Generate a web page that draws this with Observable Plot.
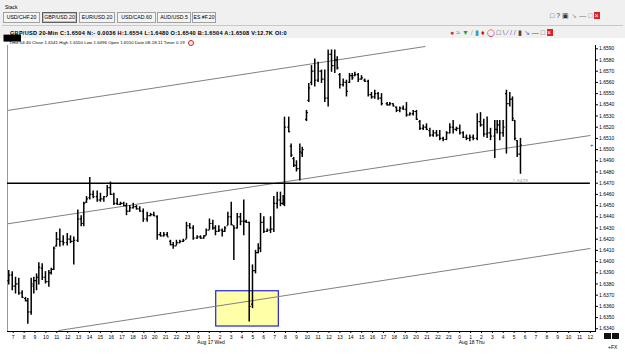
<!DOCTYPE html>
<html><head><meta charset="utf-8">
<script src="https://cdn.jsdelivr.net/npm/d3@7"></script>
<script src="https://cdn.jsdelivr.net/npm/@observablehq/plot@0.6"></script>
<style>
body{margin:0;width:625px;height:354px;overflow:hidden;background:#f0f0f0;font-family:"Liberation Sans",Arial,sans-serif;position:relative;color:#000}
.abs{position:absolute;white-space:nowrap}
.tab{position:absolute;top:12px;height:9px;border:1px solid #a0a0a0;background:#f4f4f4;font-size:5.2px;line-height:9px;text-align:center}
.tab.on{border:1px solid #606060;box-shadow:inset 0 0 0 1px #c0c0c0}
#chart{position:absolute;left:0;top:38px}
.circ{display:inline-block;width:4px;height:4px;border:1px solid #c22;border-radius:50%;background:#eef;margin-left:3px;vertical-align:middle}
</style></head><body>
<div class="abs" style="left:5px;top:4px;font-size:5px">Stack</div>
<div id="tabs"></div>
<div class="abs" style="left:2px;top:25px;width:621px;height:0;border-top:1px solid #c8c8c8"></div>
<div id="hdr" class="abs" style="left:10px;top:30px;font-size:5.6px;font-weight:bold;letter-spacing:0.25px"></div>
<div id="icons" class="abs" style="left:450px;top:29px;font-size:7px;letter-spacing:2px"></div>
<div id="wicons" class="abs" style="left:550px;top:12px;font-size:7px;letter-spacing:2px"></div>
<div id="chart"></div>
<div class="abs" style="left:9px;top:39.5px;font-size:4.3px;z-index:2"><span id="info" style="letter-spacing:0.05px"></span><span class="circ"></span></div>
<div class="abs" style="left:604px;top:333px;width:7px;height:6px;background:#111"></div>
<div class="abs" style="left:612px;top:333px;width:7px;height:6px;background:#111"></div>
<div class="abs" style="left:608px;top:344px;font-size:5px">+FX</div>
<script>
const tabNames = ["USD/CHF.20","GBP/USD.20","EUR/USD.20","USD/CAD.60","AUD/USD.5","ES #F.20"];
const tabLeft = [3,42,79,117,157,192];
const tabWidth = [35,33,34,37,32,22];
const headerText = "GBP/USD 20-Min C:1.6504 N:- 0.0036 H:1.6554 L:1.6480 O:1.6540 B:1.6504 A:1.6508 V:12.7K OI:0";
const infoText = "Time 04:40 Close 1.6541 High 1.6550 Low 1.6496 Open 1.6550 Date 08-18-11 Timer 0.19";

// 20-min bars, time in hours from Aug 16 00:00
const barTime = [6.59,6.91,7.21,7.51,7.82,8.13,8.34,8.65,8.89,9.14,9.35,9.66,9.96,10.27,10.49,10.73,10.97,11.28,11.59,11.96,12.26,12.56,12.93,13.24,13.48,13.73,14.03,14.34,14.71,15.01,15.32,15.63,15.93,16.24,16.55,16.85,17.15,17.40,17.70,18.02,18.32,18.62,18.94,19.30,19.61,19.91,20.22,20.52,20.83,21.14,21.44,21.69,21.99,22.30,22.61,22.91,23.21,23.53,23.89,
24.20,24.50,24.72,25.02,25.33,25.57,25.88,26.19,26.43,26.71,27.02,27.26,27.57,27.87,28.17,28.39,28.67,28.97,29.25,29.50,29.71,30.01,30.32,30.63,30.93,31.24,31.54,31.79,31.91,32.30,32.52,32.76,33.01,33.32,33.54,33.93,34.14,34.39,34.69,35.00,35.31,35.61,35.92,36.23,36.53,36.75,36.99,37.30,37.60,37.88,38.13,38.37,38.68,38.98,39.28,39.60,39.90,40.20,40.51,40.82,41.33,41.58,41.89,42.19,42.50,42.81,43.11,43.42,43.73,44.03,44.34,44.65,44.95,45.26,45.57,45.87,46.17,46.48,46.79,47.09,47.40,47.70,48.01,48.32,48.62,48.93,49.24,49.61,49.91,50.21,50.52,50.83,51.22,51.44,51.68,51.99,52.29,52.60,52.85,53.06,53.28,53.58];
const barHigh = [1.6392,1.6391,1.6386,1.6385,1.6374,1.6368,1.6367,1.6385,1.6386,1.6389,1.6399,1.6398,1.6391,1.6392,1.6394,1.6413,1.6426,1.6429,1.6423,1.6425,1.6423,1.6422,1.6446,1.6441,1.6453,1.6458,1.6475,1.6463,1.6463,1.6461,1.6458,1.6468,1.6471,1.6461,1.6456,1.6453,1.6453,1.6452,1.6450,1.6452,1.6450,1.6449,1.6447,1.6444,1.6443,1.6444,1.6441,1.6426,1.6426,1.6426,1.6419,1.6417,1.6419,1.6419,1.6420,1.6435,1.6434,1.6432,1.6423,
1.6423,1.6423,1.6429,1.6438,1.6437,1.6432,1.6432,1.6429,1.6431,1.6444,1.6453,1.6432,1.6443,1.6443,1.6455,1.6437,1.6435,1.6397,1.6410,1.6416,1.6443,1.6440,1.6429,1.6440,1.6458,1.6462,1.6462,1.6459,1.6529,1.6529,1.6505,1.6493,1.6490,1.6505,1.6502,1.6535,1.6559,1.6575,1.6581,1.6578,1.6571,1.6571,1.6589,1.6589,1.6589,1.6583,1.6568,1.6563,1.6562,1.6568,1.6568,1.6569,1.6568,1.6566,1.6563,1.6562,1.6551,1.6553,1.6551,1.6550,1.6542,1.6542,1.6541,1.6538,1.6538,1.6539,1.6542,1.6533,1.6535,1.6535,1.6526,1.6522,1.6523,1.6519,1.6517,1.6517,1.6517,1.6511,1.6516,1.6523,1.6526,1.6520,1.6522,1.6516,1.6513,1.6513,1.6513,1.6532,1.6533,1.6527,1.6529,1.6519,1.6526,1.6526,1.6526,1.6526,1.6553,1.6551,1.6547,1.6526,1.6508,1.6510];
const barLow = [1.6379,1.6374,1.6371,1.6370,1.6367,1.6364,1.6344,1.6352,1.6371,1.6374,1.6379,1.6383,1.6380,1.6377,1.6388,1.6392,1.6413,1.6413,1.6414,1.6414,1.6416,1.6397,1.6417,1.6431,1.6431,1.6452,1.6455,1.6456,1.6453,1.6453,1.6453,1.6458,1.6459,1.6450,1.6450,1.6450,1.6449,1.6441,1.6444,1.6447,1.6446,1.6444,1.6435,1.6435,1.6440,1.6440,1.6419,1.6422,1.6422,1.6422,1.6414,1.6411,1.6414,1.6416,1.6417,1.6420,1.6429,1.6419,1.6420,
1.6420,1.6420,1.6423,1.6428,1.6428,1.6423,1.6426,1.6422,1.6426,1.6432,1.6432,1.6401,1.6429,1.6432,1.6423,1.6434,1.6346,1.6358,1.6389,1.6407,1.6408,1.6425,1.6426,1.6425,1.6426,1.6447,1.6449,1.6450,1.6449,1.6515,1.6493,1.6484,1.6480,1.6472,1.6493,1.6525,1.6542,1.6557,1.6556,1.6560,1.6559,1.6542,1.6538,1.6569,1.6568,1.6571,1.6554,1.6556,1.6547,1.6559,1.6562,1.6565,1.6560,1.6562,1.6560,1.6547,1.6545,1.6545,1.6544,1.6539,1.6539,1.6539,1.6538,1.6533,1.6533,1.6535,1.6529,1.6530,1.6530,1.6526,1.6517,1.6517,1.6517,1.6511,1.6511,1.6511,1.6508,1.6507,1.6508,1.6514,1.6514,1.6516,1.6513,1.6510,1.6508,1.6507,1.6508,1.6508,1.6520,1.6511,1.6510,1.6508,1.6492,1.6514,1.6508,1.6511,1.6496,1.6538,1.6525,1.6508,1.6493,1.6478];
const barOpen = [1.6383,1.6388,1.6378,1.6380,1.6372,1.6367,1.6365,1.6355,1.6378,1.6383,1.6386,1.6394,1.6386,1.6382,1.6390,1.6393,1.6414,1.6420,1.6418,1.6417,1.6420,1.6418,1.6419,1.6438,1.6434,1.6453,1.6457,1.6460,1.6458,1.6455,1.6456,1.6458,1.6466,1.6460,1.6452,1.6451,1.6452,1.6450,1.6445,1.6448,1.6449,1.6447,1.6445,1.6438,1.6441,1.6442,1.6440,1.6424,1.6423,1.6424,1.6418,1.6415,1.6414,1.6417,1.6418,1.6420,1.6432,1.6430,1.6421,
1.6422,1.6421,1.6423,1.6428,1.6434,1.6430,1.6427,1.6428,1.6427,1.6432,1.6440,1.6432,1.6430,1.6440,1.6436,1.6436,1.6435,1.6362,1.6392,1.6408,1.6412,1.6435,1.6427,1.6428,1.6429,1.6452,1.6455,1.6452,1.6455,1.6520,1.6503,1.6492,1.6486,1.6483,1.6497,1.6527,1.6544,1.6560,1.6570,1.6562,1.6570,1.6563,1.6546,1.6585,1.6575,1.6580,1.6567,1.6558,1.6560,1.6560,1.6566,1.6566,1.6567,1.6563,1.6562,1.6561,1.6549,1.6547,1.6550,1.6546,1.6541,1.6540,1.6541,1.6538,1.6535,1.6537,1.6536,1.6531,1.6532,1.6534,1.6525,1.6519,1.6520,1.6517,1.6513,1.6515,1.6513,1.6510,1.6509,1.6515,1.6520,1.6518,1.6519,1.6515,1.6511,1.6510,1.6511,1.6510,1.6525,1.6522,1.6514,1.6515,1.6512,1.6518,1.6522,1.6515,1.6550,1.6541,1.6545,1.6526,1.6508,1.6496];
const barClose = [1.6388,1.6378,1.6380,1.6372,1.6368,1.6365,1.6355,1.6380,1.6383,1.6386,1.6395,1.6386,1.6382,1.6390,1.6393,1.6412,1.6420,1.6418,1.6417,1.6420,1.6418,1.6419,1.6438,1.6434,1.6452,1.6456,1.6460,1.6458,1.6455,1.6456,1.6458,1.6466,1.6460,1.6452,1.6451,1.6452,1.6450,1.6445,1.6448,1.6449,1.6447,1.6445,1.6438,1.6441,1.6442,1.6441,1.6424,1.6423,1.6424,1.6422,1.6415,1.6414,1.6417,1.6418,1.6419,1.6432,1.6430,1.6421,1.6422,
1.6421,1.6423,1.6428,1.6434,1.6430,1.6427,1.6428,1.6427,1.6430,1.6440,1.6433,1.6430,1.6440,1.6436,1.6436,1.6435,1.6360,1.6392,1.6408,1.6412,1.6435,1.6427,1.6428,1.6429,1.6452,1.6455,1.6452,1.6455,1.6520,1.6516,1.6495,1.6486,1.6483,1.6498,1.6500,1.6533,1.6555,1.6570,1.6562,1.6570,1.6563,1.6546,1.6585,1.6575,1.6580,1.6573,1.6558,1.6560,1.6552,1.6566,1.6564,1.6567,1.6563,1.6564,1.6561,1.6549,1.6547,1.6550,1.6546,1.6541,1.6540,1.6541,1.6539,1.6535,1.6537,1.6536,1.6531,1.6532,1.6534,1.6527,1.6519,1.6520,1.6518,1.6513,1.6515,1.6513,1.6510,1.6509,1.6515,1.6520,1.6518,1.6519,1.6515,1.6511,1.6510,1.6511,1.6510,1.6525,1.6522,1.6514,1.6515,1.6512,1.6518,1.6522,1.6515,1.6520,1.6541,1.6545,1.6528,1.6510,1.6496,1.6504];

// channel lines (time, price endpoints)
const trendT1 = [6.47, 6.47, 11.16];
const trendP1 = [1.65349, 1.64337, 1.63384];
const trendT2 = [44.86, 60.0, 60.0];
const trendP2 = [1.65921, 1.65126, 1.64117];
const levelPrice = [1.6470];
// highlight box
const boxT = [25.64, 31.39];
const boxP = [1.63420, 1.63735];
const lastPrice = 1.6504;
const lowLabel = "1.6478";
const lowLabelT = 53.58, lowLabelP = 1.6472;
const yTicks = d3.range(1.6340, 1.65905, 0.001);
const xTicks = d3.range(7, 61, 1);
const dayT = [24, 48];
const dayNames = ["Aug 17 Wed", "Aug 18 Thu"];

// header html
const tabs = document.getElementById("tabs");
tabNames.forEach((n,i)=>{const d=document.createElement("div");d.className="tab"+(i===1?" on":"");d.style.left=tabLeft[i]+"px";d.style.width=tabWidth[i]+"px";d.textContent=n;tabs.appendChild(d);});
document.getElementById("hdr").textContent = headerText;
document.getElementById("info").textContent = infoText;
document.getElementById("icons").innerHTML = '<span style="color:#c33">&#9679;</span><span style="color:#36c">&#8776;</span><span style="color:#393">&#9660;</span><span style="color:#e90">/</span><span style="color:#39c">&#9646;</span><span style="color:#c00">&#9830;</span><span style="color:#c00">&#9711;</span><span style="color:#336">&#9633;</span><span style="color:#960">\\</span><span style="color:#66c">&#8725;</span><span style="color:#66c">//</span><span style="color:#444">&#9646;</span><span style="color:#36c">&#8600;</span><span style="color:#555">&#8212;</span><span style="color:#555">&#9633;</span><span style="color:#fff;background:#d22">&#215;</span>';
document.getElementById("wicons").innerHTML = '<span style="color:#447">&#9633;</span><span style="color:#337">?</span><span style="color:#333">&#9635;</span><span style="color:#999">&#8600;</span><span style="color:#777">&#8212;</span><span style="color:#777">&#9633;</span><span style="color:#fff;background:#d22">&#215;</span>';

const tickW = 0.13; // open/close tick length in hours
const bars = barTime.map((t,i)=>({t, high:barHigh[i], low:barLow[i], open:barOpen[i], close:barClose[i]}));
const trends = trendT1.map((t,i)=>({t1:t,p1:trendP1[i],t2:trendT2[i],p2:trendP2[i]}));

const plot = Plot.plot({
  width:625, height:316, marginTop:7, marginBottom:23, marginLeft:7, marginRight:30,
  x:{domain:[6.474,60.47]},
  y:{domain:[1.633755,1.659295]},
  style:{fontFamily:"Liberation Sans, Arial, sans-serif", fontSize:"5px", background:"white", color:"black", overflow:"visible"},
  marks:[
    Plot.frame({anchor:"left", stroke:"#999"}),
    Plot.rect([0],{x1:()=>boxT[0],x2:()=>boxT[1],y1:()=>boxP[0],y2:()=>boxP[1],fill:"#ffffa8",stroke:"#2222dd",strokeWidth:1.2}),
    Plot.link(trends,{x1:"t1",y1:"p1",x2:"t2",y2:"p2",stroke:"#808080",strokeWidth:1}),
    Plot.ruleY(levelPrice,{x1:6.474,x2:60.0,stroke:"black",strokeWidth:1.4}),
    Plot.ruleX(bars,{x:"t",y1:"low",y2:"high",stroke:"black",strokeWidth:1.5}),
    Plot.link(bars,{x1:d=>d.t-tickW,x2:"t",y1:"open",y2:"open",stroke:"black",strokeWidth:1.2}),
    Plot.link(bars,{x1:"t",x2:d=>d.t+tickW,y1:"close",y2:"close",stroke:"black",strokeWidth:1.2}),
    Plot.text([lowLabel],{x:()=>lowLabelT,y:()=>lowLabelP,text:d=>d,fill:"#aaa",fontSize:5}),
    Plot.frame({anchor:"right"}),
    Plot.frame({anchor:"bottom"}),
    Plot.axisY({anchor:"right", ticks:yTicks, tickFormat:d=>d.toFixed(4), tickSize:2, tickPadding:1.5}),
    Plot.axisX({ticks:xTicks, tickFormat:d=>String(d%24), tickSize:2, tickPadding:1.5, label:null}),
    Plot.axisX({ticks:dayT, tickFormat:(d,i)=>dayNames[dayT.indexOf(d)], tickSize:0, tickPadding:8.5, textAnchor:"start", dx:-1, label:null}),
    Plot.text([lastPrice],{frameAnchor:"right", y:d=>d, text:d=>d.toFixed(4), dx:4, textAnchor:"start", fill:"white", fontWeight:"bold", className:"pbox"}),
    Plot.text(["+"],{frameAnchor:"right", y:()=>lastPrice, text:d=>d, dx:-2, fill:"#333", fontSize:6})
  ]
});
document.getElementById("chart").appendChild(plot);
// black box behind the current price label
d3.select(plot).selectAll("g.pbox text").each(function(){
  const b=this.getBBox();
  d3.select(this.parentNode).insert("rect","text").attr("x",b.x-1).attr("y",b.y-0.5).attr("width",b.width+2).attr("height",b.height+1).attr("fill","black");
});
</script>
</body></html>
